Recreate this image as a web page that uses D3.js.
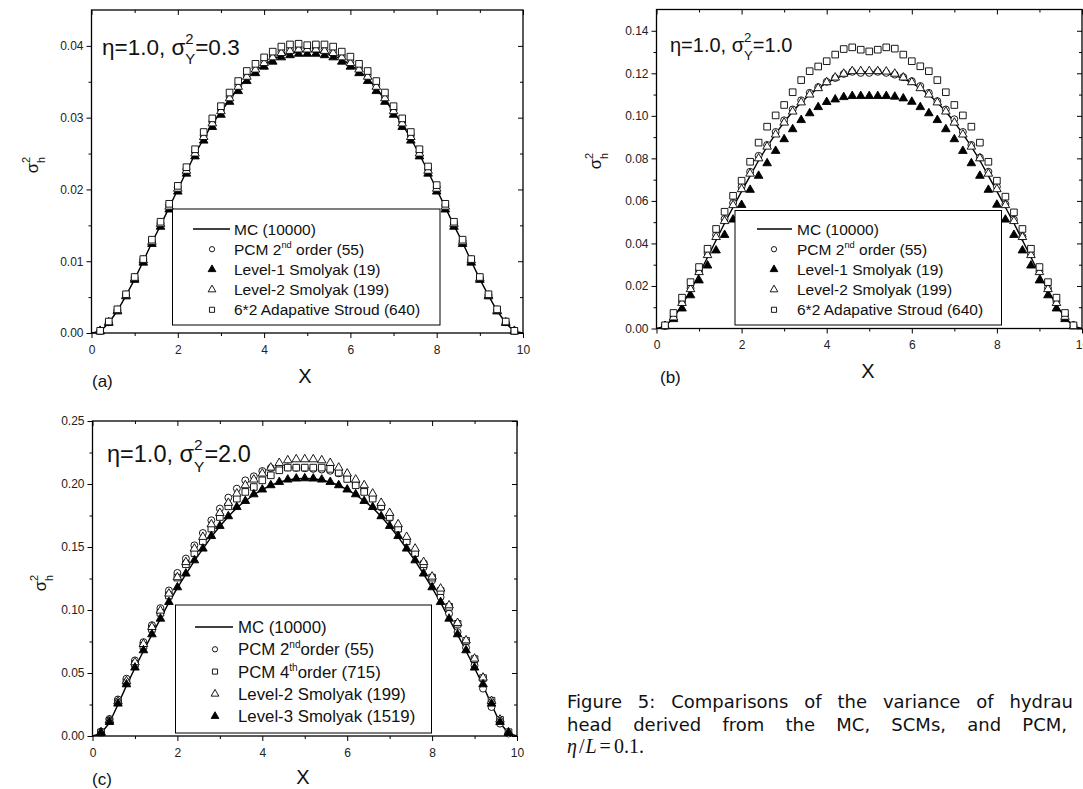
<!DOCTYPE html>
<html>
<head>
<meta charset="utf-8">
<script src="https://cdn.jsdelivr.net/npm/d3@7"></script>
<style>
body { margin: 0; background: #fff; overflow: hidden; }
svg { display: block; font-family: "Liberation Sans", Arial, sans-serif; }
</style>
</head>
<body>
<svg id="fig" width="1083" height="789"></svg>
<script>
// x of the collocation / PCM results, and the grid the MC curve is drawn on
var xPts = [0.2,0.4,0.6,0.8,1.0,1.2,1.4,1.6,1.8,2.0,2.2,2.4,2.6,2.8,3.0,3.2,3.4,3.6,3.8,4.0,4.2,4.4,4.6,4.8,5.0,
            5.2,5.4,5.6,5.8,6.0,6.2,6.4,6.6,6.8,7.0,7.2,7.4,7.6,7.8,8.0,8.2,8.4,8.6,8.8,9.0,9.2,9.4,9.6,9.8];
var xMC = [0,0.2,0.4,0.6,0.8,1.0,1.2,1.4,1.6,1.8,2.0,2.2,2.4,2.6,2.8,3.0,3.2,3.4,3.6,3.8,4.0,4.2,4.4,4.6,4.8,5.0,
           5.2,5.4,5.6,5.8,6.0,6.2,6.4,6.6,6.8,7.0,7.2,7.4,7.6,7.8,8.0,8.2,8.4,8.6,8.8,9.0,9.2,9.4,9.6,9.8,10];
var xTicks = [0,2,4,6,8,10];
var xMinor = [1,3,5,7,9];

// (a) eta=1.0, sigma_Y^2=0.3
var aMC = [0,0.0002,0.0014,0.0031,0.0052,0.0075,0.0100,0.0126,0.0150,0.0175,0.0200,0.0225,0.0249,0.0271,0.0291,0.0308,0.0325,0.0341,0.0355,0.0365,0.0374,0.0381,0.0387,0.0390,0.0392,0.0392,
           0.0392,0.0390,0.0387,0.0381,0.0374,0.0365,0.0355,0.0341,0.0325,0.0308,0.0291,0.0271,0.0249,0.0225,0.0200,0.0175,0.0150,0.0126,0.0100,0.0075,0.0052,0.0031,0.0014,0.0002,0];
var aPCM2 = [0.0003,0.0015,0.0032,0.0053,0.0077,0.0102,0.0128,0.0153,0.0178,0.0203,0.0228,0.0252,0.0275,0.0294,0.0311,0.0329,0.0345,0.0359,0.0369,0.0378,0.0386,0.0392,0.0395,0.0397,0.0397,
             0.0397,0.0395,0.0392,0.0386,0.0378,0.0369,0.0359,0.0345,0.0329,0.0311,0.0294,0.0275,0.0252,0.0228,0.0203,0.0178,0.0153,0.0128,0.0102,0.0077,0.0053,0.0032,0.0015,0.0003];
var aL1 = [0.0002,0.0014,0.0030,0.0051,0.0074,0.0098,0.0124,0.0148,0.0172,0.0197,0.0222,0.0246,0.0268,0.0287,0.0304,0.0322,0.0337,0.0351,0.0362,0.0371,0.0378,0.0384,0.0387,0.0389,0.0389,
           0.0389,0.0387,0.0384,0.0378,0.0371,0.0362,0.0351,0.0337,0.0322,0.0304,0.0287,0.0268,0.0246,0.0222,0.0197,0.0172,0.0148,0.0124,0.0098,0.0074,0.0051,0.0030,0.0014,0.0002];
var aL2 = [0.0003,0.0015,0.0031,0.0052,0.0076,0.0101,0.0127,0.0152,0.0176,0.0201,0.0226,0.0250,0.0273,0.0292,0.0309,0.0327,0.0343,0.0357,0.0367,0.0376,0.0384,0.0390,0.0393,0.0395,0.0395,
           0.0395,0.0393,0.0390,0.0384,0.0376,0.0367,0.0357,0.0343,0.0327,0.0309,0.0292,0.0273,0.0250,0.0226,0.0201,0.0176,0.0152,0.0127,0.0101,0.0076,0.0052,0.0031,0.0015,0.0003];
var aStroud = [0.0003,0.0016,0.0033,0.0054,0.0078,0.0103,0.0130,0.0155,0.0180,0.0205,0.0231,0.0256,0.0280,0.0299,0.0316,0.0335,0.0351,0.0365,0.0375,0.0384,0.0392,0.0399,0.0402,0.0403,0.0401,
               0.0402,0.0402,0.0399,0.0392,0.0385,0.0375,0.0365,0.0351,0.0335,0.0316,0.0299,0.0280,0.0256,0.0232,0.0206,0.0180,0.0155,0.0130,0.0103,0.0078,0.0054,0.0033,0.0016,0.0003];
var aYTicks = [0,0.01,0.02,0.03,0.04];
var aYMinor = [0.005,0.015,0.025,0.035,0.045];

// (b) eta=1.0, sigma_Y^2=1.0
var bMC = [0,0.0010,0.0050,0.0110,0.0180,0.0255,0.0335,0.0415,0.0495,0.0570,0.0645,0.0718,0.0790,0.0855,0.0915,0.0970,0.1020,0.1063,0.1100,0.1130,0.1155,0.1175,0.1190,0.1200,0.1205,0.1207,
           0.1205,0.1200,0.1190,0.1175,0.1155,0.1130,0.1100,0.1063,0.1020,0.0970,0.0915,0.0855,0.0790,0.0718,0.0645,0.0570,0.0495,0.0415,0.0335,0.0255,0.0180,0.0110,0.0050,0.0010,0];
var bPCM2 = [0.0012,0.0054,0.0125,0.0190,0.0270,0.0355,0.0440,0.0515,0.0590,0.0667,0.0737,0.0812,0.0863,0.0924,0.0979,0.1030,0.1073,0.1108,0.1135,0.1160,0.1178,0.1197,0.1207,0.1202,0.1202,
             0.1207,0.1202,0.1194,0.1182,0.1163,0.1140,0.1108,0.1069,0.1030,0.0984,0.0924,0.0863,0.0804,0.0737,0.0667,0.0585,0.0512,0.0432,0.0351,0.0268,0.0190,0.0125,0.0062,0.0015];
var bL1 = [0.0010,0.0044,0.0094,0.0156,0.0226,0.0296,0.0367,0.0440,0.0512,0.0581,0.0652,0.0718,0.0777,0.0835,0.0890,0.0937,0.0980,0.1012,0.1041,0.1065,0.1077,0.1088,0.1093,0.1093,0.1093,
           0.1093,0.1093,0.1090,0.1082,0.1066,0.1041,0.1012,0.0980,0.0937,0.0890,0.0835,0.0777,0.0718,0.0652,0.0582,0.0512,0.0440,0.0367,0.0296,0.0226,0.0156,0.0094,0.0044,0.0010];
var bL2 = [0.0012,0.0052,0.0120,0.0185,0.0265,0.0345,0.0430,0.0505,0.0580,0.0655,0.0728,0.0800,0.0855,0.0912,0.0968,0.1020,0.1063,0.1100,0.1130,0.1158,0.1180,0.1198,0.1210,0.1210,0.1210,
           0.1210,0.1208,0.1198,0.1180,0.1158,0.1130,0.1100,0.1063,0.1020,0.0968,0.0912,0.0855,0.0800,0.0728,0.0655,0.0580,0.0505,0.0430,0.0345,0.0265,0.0185,0.0120,0.0055,0.0012];
var bStroud = [0.0015,0.0073,0.0145,0.0218,0.0289,0.0375,0.0468,0.0549,0.0624,0.0695,0.0784,0.0874,0.0949,0.1002,0.1051,0.1111,0.1168,0.1210,0.1232,0.1257,0.1288,0.1314,0.1322,0.1311,0.1303,
               0.1311,0.1322,0.1316,0.1288,0.1257,0.1233,0.1210,0.1168,0.1111,0.1051,0.1002,0.0949,0.0874,0.0784,0.0695,0.0620,0.0546,0.0468,0.0375,0.0289,0.0218,0.0145,0.0073,0.0015];
var bYTicks = [0,0.02,0.04,0.06,0.08,0.10,0.12,0.14];
var bYMinor = [0.01,0.03,0.05,0.07,0.09,0.11,0.13,0.15];

// (c) eta=1.0, sigma_Y^2=2.0
var cMC = [0,0.0020,0.0105,0.0250,0.0400,0.0540,0.0675,0.0805,0.0930,0.1060,0.1175,0.1285,0.1390,0.1485,0.1580,0.1665,0.1742,0.1812,0.1865,0.1915,0.1955,0.1990,0.2015,0.2032,0.2042,0.2045,
           0.2042,0.2032,0.2015,0.1990,0.1955,0.1915,0.1865,0.1812,0.1742,0.1665,0.1580,0.1485,0.1390,0.1285,0.1175,0.1060,0.0930,0.0805,0.0675,0.0540,0.0400,0.0250,0.0105,0.0020,0];
var cPCM2 = [0.0035,0.0135,0.0290,0.0455,0.0600,0.0745,0.0880,0.1015,0.1155,0.1294,0.1408,0.1513,0.1611,0.1712,0.1805,0.1892,0.1963,0.2029,0.2061,0.2103,0.2127,0.2133,0.2132,0.2128,0.2125,
             0.2120,0.2115,0.2105,0.2085,0.2055,0.2010,0.1955,0.1890,0.1815,0.1730,0.1640,0.1545,0.1445,0.1340,0.1235,0.1103,0.0971,0.0825,0.0701,0.0560,0.0376,0.0230,0.0098,0.0020];
var cPCM4 = [0.0028,0.0120,0.0268,0.0425,0.0572,0.0715,0.0850,0.0978,0.1115,0.1257,0.1363,0.1452,0.1545,0.1646,0.1738,0.1823,0.1884,0.1937,0.1976,0.2029,0.2069,0.2109,0.2130,0.2130,0.2130,
             0.2130,0.2130,0.2120,0.2090,0.2040,0.1990,0.1937,0.1884,0.1823,0.1738,0.1646,0.1545,0.1452,0.1363,0.1257,0.1150,0.1025,0.0890,0.0755,0.0610,0.0460,0.0280,0.0128,0.0030];
var cL2 = [0.0030,0.0125,0.0275,0.0435,0.0585,0.0730,0.0865,0.0995,0.1130,0.1260,0.1380,0.1487,0.1580,0.1680,0.1770,0.1850,0.1924,0.1990,0.2035,0.2083,0.2130,0.2167,0.2188,0.2196,0.2196,
           0.2196,0.2188,0.2167,0.2130,0.2083,0.2035,0.1990,0.1924,0.1850,0.1770,0.1680,0.1580,0.1487,0.1380,0.1265,0.1170,0.1037,0.0897,0.0759,0.0614,0.0463,0.0278,0.0130,0.0030];
var cL3 = [0.0024,0.0111,0.0257,0.0410,0.0543,0.0680,0.0807,0.0931,0.1063,0.1180,0.1289,0.1394,0.1487,0.1587,0.1667,0.1744,0.1817,0.1865,0.1918,0.1956,0.1990,0.2016,0.2035,0.2043,0.2045,
           0.2043,0.2035,0.2016,0.1990,0.1956,0.1918,0.1865,0.1817,0.1744,0.1667,0.1587,0.1487,0.1394,0.1289,0.1180,0.1063,0.0931,0.0807,0.0680,0.0543,0.0410,0.0257,0.0111,0.0024];
var cYTicks = [0,0.05,0.10,0.15,0.20,0.25];
var cYMinor = [0.025,0.075,0.125,0.175,0.225];

var svg = d3.select('#fig');
var symTypes = { circle: d3.symbolCircle, square: d3.symbolSquare, tri: d3.symbolTriangle, ftri: d3.symbolTriangle };
var symSize = { circle: 38, square: 44, tri: 32, ftri: 32 };

var panels = [
	{ left: 91.5, right: 523, top: 10, bottom: 333, ymax: 0.045, yTicks: aYTicks, yMinor: aYMinor,
	  mc: aMC, tag: '(a)', tagX: 92, tagY: 387, xLab: [305, 383], yLab: [38, 165],
	  note: ['\u03b7=1.0, \u03c3', '2', 'Y', '=0.3'], noteX: 102, noteY: 55, noteSize: 22.5,
	  series: [{ v: aPCM2, t: 'circle' }, { v: aL1, t: 'ftri' }, { v: aL2, t: 'tri' }, { v: aStroud, t: 'square' }],
	  legend: { x0: 172.5, y0: 209, x1: 440, y1: 325, lx0: 193, lx1: 230, sx: 212, tx: 234, row0: 229, step: 20.2, fs: 15.5,
	            items: [{ t: 'line', txt: ['MC (10000)'] }, { t: 'circle', txt: ['PCM 2', 'nd', ' order (55)'] },
	                    { t: 'ftri', txt: ['Level-1 Smolyak (19)'] }, { t: 'tri', txt: ['Level-2 Smolyak (199)'] },
	                    { t: 'square', txt: ['6*2 Adapative Stroud (640)'] }] } },
	{ left: 656.5, right: 1082, top: 9.5, bottom: 328.5, ymax: 0.15, yTicks: bYTicks, yMinor: bYMinor,
	  mc: bMC, tag: '(b)', tagX: 660, tagY: 383, xLab: [868, 378], yLab: [601, 161],
	  note: ['\u03b7=1.0, \u03c3', '2', 'Y', '=1.0'], noteX: 670, noteY: 52, noteSize: 20,
	  series: [{ v: bPCM2, t: 'circle' }, { v: bL1, t: 'ftri' }, { v: bL2, t: 'tri' }, { v: bStroud, t: 'square' }],
	  legend: { x0: 735, y0: 210.5, x1: 1001.5, y1: 325, lx0: 757, lx1: 792, sx: 774, tx: 797, row0: 229, step: 20.2, fs: 15.5,
	            items: [{ t: 'line', txt: ['MC (10000)'] }, { t: 'circle', txt: ['PCM 2', 'nd', ' order (55)'] },
	                    { t: 'ftri', txt: ['Level-1 Smolyak (19)'] }, { t: 'tri', txt: ['Level-2 Smolyak (199)'] },
	                    { t: 'square', txt: ['6*2 Adapative Stroud (640)'] }] } },
	{ left: 92.5, right: 517, top: 421, bottom: 736, ymax: 0.25, yTicks: cYTicks, yMinor: cYMinor,
	  mc: cMC, tag: '(c)', tagX: 92, tagY: 785, xLab: [303, 784], yLab: [46, 583],
	  note: ['\u03b7=1.0, \u03c3', '2', 'Y', '=2.0'], noteX: 107, noteY: 462, noteSize: 23.5,
	  series: [{ v: cPCM2, t: 'circle' }, { v: cPCM4, t: 'square' }, { v: cL2, t: 'tri' }, { v: cL3, t: 'ftri' }],
	  legend: { x0: 175.5, y0: 605, x1: 431.5, y1: 733, lx0: 195, lx1: 233, sx: 215, tx: 238, row0: 627, step: 22.3, fs: 16.8,
	            items: [{ t: 'line', txt: ['MC (10000)'] }, { t: 'circle', txt: ['PCM 2', 'nd', 'order (55)'] },
	                    { t: 'square', txt: ['PCM 4', 'th', 'order (715)'] }, { t: 'tri', txt: ['Level-2 Smolyak (199)'] },
	                    { t: 'ftri', txt: ['Level-3 Smolyak (1519)'] }] } }
];

// base text + stacked superscript/subscript + rest
function stacked(t, parts, size) {
	var s = size * 0.66;
	t.append('tspan').text(parts[0]);
	t.append('tspan').attr('font-size', s).attr('dy', -size * 0.5).text(parts[1]);
	t.append('tspan').attr('font-size', s).attr('dx', -s * 0.556).attr('dy', size * 0.92).text(parts[2]);
	t.append('tspan').attr('dy', -size * 0.42).text(parts[3]);
}

function styleAxis(g) {
	g.select('.domain').remove();
	g.selectAll('line').attr('stroke', '#000').attr('stroke-width', 1);
	g.selectAll('text').attr('font-size', 12).attr('fill', '#222').attr('font-family', '"Liberation Sans", Arial, sans-serif');
}

panels.forEach(function (p) {
	var g = svg.append('g');
	var x = d3.scaleLinear().domain([0, 10]).range([p.left, p.right]);
	var y = d3.scaleLinear().domain([0, p.ymax]).range([p.bottom, p.top]);
	var yMin = p.yMinor.filter(function (d) { return d < p.ymax; });

	// outward ticks on bottom/left, inward mirror ticks on top/right
	g.append('g').attr('transform', 'translate(0,' + p.bottom + ')')
		.call(d3.axisBottom(x).tickValues(xTicks).tickSize(5).tickSizeOuter(0).tickPadding(7).tickFormat(d3.format('d'))).call(styleAxis);
	g.append('g').attr('transform', 'translate(0,' + p.bottom + ')')
		.call(d3.axisBottom(x).tickValues(xMinor).tickSize(3).tickSizeOuter(0).tickFormat('')).call(styleAxis);
	g.append('g').attr('transform', 'translate(' + p.left + ',0)')
		.call(d3.axisLeft(y).tickValues(p.yTicks).tickSize(5).tickSizeOuter(0).tickPadding(3).tickFormat(d3.format('.2f'))).call(styleAxis);
	g.append('g').attr('transform', 'translate(' + p.left + ',0)')
		.call(d3.axisLeft(y).tickValues(yMin).tickSize(3).tickSizeOuter(0).tickFormat('')).call(styleAxis);
	g.append('g').attr('transform', 'translate(0,' + p.top + ')')
		.call(d3.axisTop(x).tickValues(xTicks).tickSize(-5).tickSizeOuter(0).tickFormat('')).call(styleAxis);
	g.append('g').attr('transform', 'translate(0,' + p.top + ')')
		.call(d3.axisTop(x).tickValues(xMinor).tickSize(-3).tickSizeOuter(0).tickFormat('')).call(styleAxis);
	g.append('g').attr('transform', 'translate(' + p.right + ',0)')
		.call(d3.axisRight(y).tickValues(p.yTicks).tickSize(-5).tickSizeOuter(0).tickFormat('')).call(styleAxis);
	g.append('g').attr('transform', 'translate(' + p.right + ',0)')
		.call(d3.axisRight(y).tickValues(yMin).tickSize(-3).tickSizeOuter(0).tickFormat('')).call(styleAxis);

	g.append('rect').attr('x', p.left).attr('y', p.top).attr('width', p.right - p.left).attr('height', p.bottom - p.top)
		.attr('fill', 'none').attr('stroke', '#000').attr('stroke-width', 1.3);

	// MC reference curve
	var line = d3.line().x(function (d, i) { return x(xMC[i]); }).y(function (d) { return y(d); });
	g.append('path').datum(p.mc).attr('d', line).attr('fill', 'none').attr('stroke', '#000').attr('stroke-width', 1.4);

	p.series.forEach(function (s) {
		g.append('g').selectAll('path').data(s.v).join('path')
			.attr('transform', function (d, i) { return 'translate(' + x(xPts[i]) + ',' + y(d) + ')'; })
			.attr('d', d3.symbol().type(symTypes[s.t]).size(symSize[s.t]))
			.attr('fill', s.t === 'ftri' ? '#000' : '#fff').attr('stroke', '#000').attr('stroke-width', 0.9);
	});

	// legend
	var L = p.legend;
	g.append('rect').attr('x', L.x0).attr('y', L.y0).attr('width', L.x1 - L.x0).attr('height', L.y1 - L.y0)
		.attr('fill', '#fff').attr('stroke', '#000').attr('stroke-width', 1);
	L.items.forEach(function (it, i) {
		var cy = L.row0 + i * L.step;
		if (it.t === 'line') {
			g.append('line').attr('x1', L.lx0).attr('x2', L.lx1).attr('y1', cy).attr('y2', cy).attr('stroke', '#000').attr('stroke-width', 1.4);
		} else {
			g.append('path').attr('transform', 'translate(' + L.sx + ',' + cy + ')')
				.attr('d', d3.symbol().type(symTypes[it.t]).size(it.t === 'circle' ? 22 : 26))
				.attr('fill', it.t === 'ftri' ? '#000' : '#fff').attr('stroke', '#000').attr('stroke-width', 0.9);
		}
		var t = g.append('text').attr('x', L.tx).attr('y', cy + L.fs * 0.36).attr('font-size', L.fs).attr('fill', '#111');
		t.append('tspan').text(it.txt[0]);
		if (it.txt.length > 1) {
			t.append('tspan').attr('font-size', L.fs * 0.6).attr('dy', -L.fs * 0.42).text(it.txt[1]);
			t.append('tspan').attr('dy', L.fs * 0.42).text(it.txt[2]);
		}
	});

	// annotation, axis titles, panel tag
	stacked(g.append('text').attr('x', p.noteX).attr('y', p.noteY).attr('font-size', p.noteSize).attr('fill', '#111'), p.note, p.noteSize);
	g.append('text').attr('x', p.xLab[0]).attr('y', p.xLab[1]).attr('text-anchor', 'middle').attr('font-size', 20).attr('fill', '#111').text('X');
	g.append('text').attr('x', p.tagX).attr('y', p.tagY).attr('font-size', 17).attr('fill', '#111').text(p.tag);
	var yl = g.append('text').attr('transform', 'translate(' + p.yLab[0] + ',' + p.yLab[1] + ') rotate(-90)')
		.attr('text-anchor', 'middle').attr('font-size', 16.5).attr('fill', '#111');
	stacked(yl, ['\u03c3', '2', 'h', ''], 16.5);
});

// caption, justified; the page crop cuts the lines at the right edge
var capX = 567, capW = [516, 500];
var capLines = [['Figure 5:  Comparisons of the variance of hydrau', ''], ['head derived from the MC, SCMs, and PCM,', ' f']];
capLines.forEach(function (cl, i) {
	var t = svg.append('text').attr('x', capX).attr('y', 708 + i * 22.5)
		.attr('font-family', '"DejaVu Sans", sans-serif').attr('font-size', 18).attr('fill', '#111').text(cl[0]);
	var w = t.node().getComputedTextLength();
	var n = (cl[0].match(/ /g) || []).length;
	t.style('word-spacing', Math.max(0, (capW[i] - w) / n) + 'px').text(cl[0] + cl[1]);
});
var eq = svg.append('text').attr('x', capX).attr('y', 753).attr('font-family', '"Liberation Serif", "DejaVu Serif", serif')
	.attr('font-size', 20).attr('fill', '#111');
eq.append('tspan').attr('font-style', 'italic').text('\u03b7');
eq.append('tspan').attr('dx', 2).text('/');
eq.append('tspan').attr('dx', 1).attr('font-style', 'italic').text('L');
eq.append('tspan').attr('dx', 3).text('=');
eq.append('tspan').attr('dx', 3).text('0.1.');
</script>
</body>
</html>
